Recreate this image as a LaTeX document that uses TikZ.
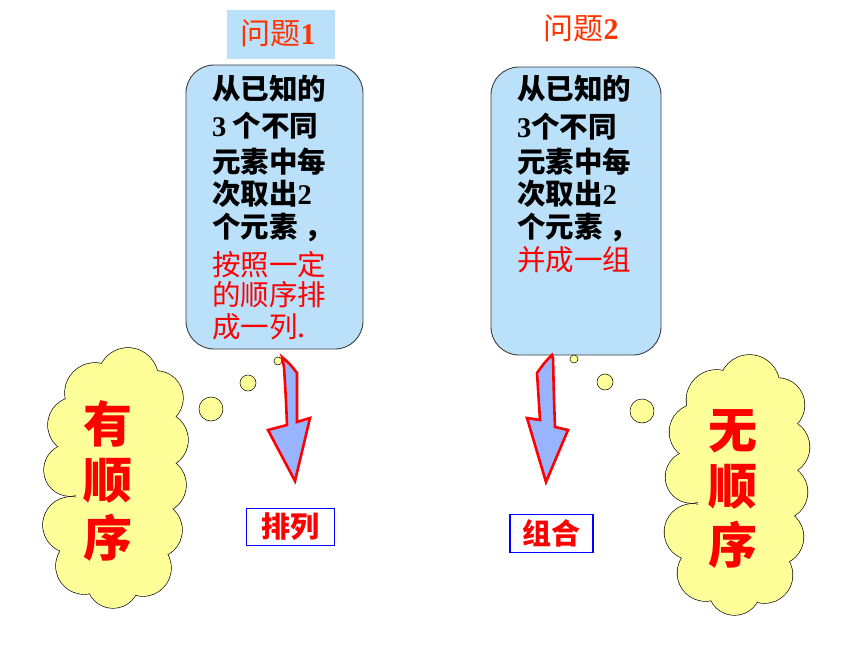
\documentclass[tikz,border=0pt]{standalone}
\usepackage{fontspec}
\newfontfamily\cjk{Noto Sans CJK SC}
\newfontfamily\dig{Liberation Serif}
\definecolor{boxblue}{RGB}{187,225,250}
\definecolor{titlered}{RGB}{255,51,0}
\definecolor{cloudyellow}{RGB}{255,255,153}
\definecolor{arrowblue}{RGB}{153,180,255}
\definecolor{bordergray}{RGB}{60,60,60}
\tikzset{
  qbox/.style={draw=bordergray, line width=0.9pt, fill=boxblue, rounded corners=28pt, inner sep=0pt},
  bl/.style={anchor=base west, inner sep=0pt, font=\cjk\bfseries\fontsize{28.5}{28.5}\selectfont, text=black},
  rl/.style={anchor=base west, inner sep=0pt, font=\cjk\fontsize{28.5}{28.5}\selectfont, text=red},
  ttl/.style={inner sep=0pt, font=\cjk\fontsize{30}{30}\selectfont, text=titlered},
  puffline/.style={draw=black, line width=1.3pt},
  pufffill/.style={fill=cloudyellow},
  bub/.style={circle, draw=black, line width=0.5pt, fill=cloudyellow, inner sep=0pt},
  cch/.style={inner sep=0pt, font=\cjk\bfseries\fontsize{49}{49}\selectfont, text=red},
  lab/.style={draw=blue, line width=1.8pt, fill=white, inner sep=0pt, text=red},
  labt/.style={inner sep=0pt, font=\cjk\bfseries\fontsize{29}{29}\selectfont},
  barrow/.style={draw=red, line width=2.6pt, fill=arrowblue, line join=miter}
}
\newcommand\mycloudpuffs{95/393/30, 128/378/30, 156/398/27, 160/440/28, 158/485/28, 154/530/28, 143/568/28, 113/582/26, 84/566/28, 71/525/28, 70/470/26, 76/425/28}
\newcommand\drawmycloud{%
  \foreach \cx/\cy/\cr in \mycloudpuffs {\draw[puffline] (\cx,\cy) circle[radius=\cr];}
  \foreach \cx/\cy/\cr in \mycloudpuffs {\fill[pufffill] (\cx,\cy) circle[radius=\cr];}
  \fill[pufffill] (76,395) rectangle (157,572);
}
\begin{document}
\begin{tikzpicture}[x=1pt,y=-1pt]
\useasboundingbox (0,0) rectangle (860,645);
% titles
\node[fill=boxblue, minimum width=108pt, minimum height=49pt, inner sep=0pt] (t1bg) at (281,34.5) {};
\node[ttl] (t1) at (278,33) {问题{\dig\bfseries 1}};
\node[ttl] (t2) at (581,28) {问题{\dig\bfseries 2}};
% boxes
\node[qbox, minimum width=177pt, minimum height=284pt] (b1) at (274.5,207) {};
\node[qbox, minimum width=170pt, minimum height=288pt] (b2) at (576,211) {};
% box 1 text
\node[bl] (a1) at (212,99) {从已知的};
\node[bl] (a2) at (212,136) {{\dig\bfseries 3} 个不同};
\node[bl] (a3) at (212,172) {元素中每};
\node[bl] (a4) at (212,204) {次取出{\dig\bfseries 2}};
\node[bl] (a5) at (212,237) {个元素 ，};
\node[rl] (a6) at (212,275) {按照一定};
\node[rl] (a7) at (212,305) {的顺序排};
\node[rl] (a8) at (212,337) {成一列.};
% box 2 text
\node[bl] (c1) at (517,99) {从已知的};
\node[bl] (c2) at (517,137) {{\dig\bfseries 3}个不同};
\node[bl] (c3) at (517,172) {元素中每};
\node[bl] (c4) at (517,204) {次取出{\dig\bfseries 2}};
\node[bl] (c5) at (517,237) {个元素 ，};
\node[rl] (c6) at (517,270) {并成一组};
% bubbles
\node[bub, minimum size=8pt] (lb1) at (278,361) {};
\node[bub, minimum size=16pt] (lb2) at (248,383) {};
\node[bub, minimum size=24pt] (lb3) at (211,409) {};
\node[bub, minimum size=8pt] (rb1) at (574,359) {};
\node[bub, minimum size=16pt] (rb2) at (605,382) {};
\node[bub, minimum size=24pt] (rb3) at (642,411) {};
% clouds
\begin{scope}
  \drawmycloud
\end{scope}
\begin{scope}[shift={(621.5,7)}]
  \drawmycloud
\end{scope}
\node[cch] (h1) at (108,424) {有};
\node[cch] (h2) at (108,481) {顺};
\node[cch] (h3) at (108,538) {序};
\node[cch] (k1) at (733,431) {无};
\node[cch] (k2) at (733,487) {顺};
\node[cch] (k3) at (733,545) {序};
% arrows
\draw[barrow] (282,357) .. controls (290,364) .. (297,373) -- (297,422) -- (310,418) -- (295,481) -- (268,430) -- (287,425) .. controls (286,400) .. (284,367) -- cycle;
\draw[barrow] (552,355) .. controls (545,362) .. (537,373) -- (540,420) -- (527,418) -- (546,482) -- (568,430) -- (555,427) .. controls (554,400) .. (553,358) -- cycle;
% labels
\node[lab, minimum width=88pt, minimum height=37pt] (p1) at (290.5,527) {};
\node[labt, text=red] (p1t) at (p1) {排列};
\node[lab, minimum width=83pt, minimum height=38pt] (p2) at (551.5,533.5) {};
\node[labt, text=red] (p2t) at (p2) {组合};
\end{tikzpicture}
\end{document}
